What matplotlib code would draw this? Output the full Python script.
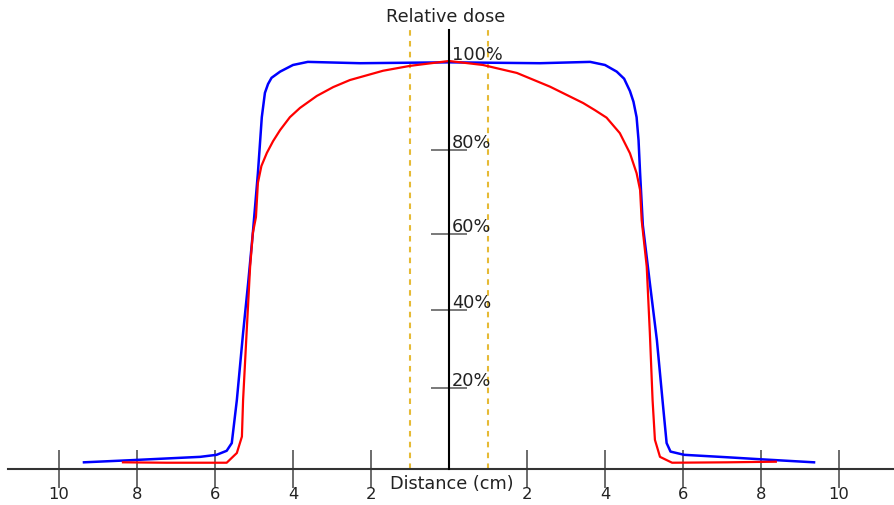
import numpy as np
import matplotlib.pyplot as plt
from matplotlib.transforms import offset_copy

plt.rcParams['font.family'] = ['DejaVu Sans']
plt.rcParams['lines.scale_dashes'] = False

# blue profile (flat field) and red profile, distance in cm, dose in %
blue_x = [-9.36, -8.10, -6.38, -5.96, -5.70, -5.57, -5.44, -5.28, -5.15, -5.03,
          -4.90, -4.80, -4.72, -4.64, -4.55, -4.33, -4.00, -3.62, -2.28, 0.00,
          2.33, 3.62, 4.00, 4.30, 4.49, 4.64, 4.73, 4.81, 4.86, 4.90,
          4.97, 5.15, 5.33, 5.49, 5.58, 5.68, 6.03, 7.13, 7.99, 9.36]
blue_dose = [1.65, 2.2, 3.0, 3.5, 4.5, 6.4, 17.0, 34.1, 47.1, 60.2,
             74.4, 87.3, 92.8, 94.8, 96.2, 97.6, 99.1, 99.8, 99.5, 99.7,
             99.5, 99.8, 99.1, 97.6, 96.0, 93.2, 90.8, 87.3, 82.1, 74.4,
             62.1, 47.1, 32.3, 15.4, 6.4, 4.3, 3.5, 2.9, 2.4, 1.65]

red_x = [-8.36, -7.24, -5.70, -5.44, -5.31, -5.28, -5.19, -5.10, -5.03,
         -4.95, -4.90, -4.81, -4.67, -4.51, -4.33, -4.08, -3.82, -3.39, -2.97,
         -2.54, -1.69, -1.00, 0.00, 0.87, 1.74, 2.59, 3.44, 3.74, 4.04,
         4.38, 4.64, 4.81, 4.90, 4.94, 5.07, 5.15, 5.22, 5.28, 5.41,
         5.72, 7.13, 8.38]
red_dose = [1.65, 1.55, 1.55, 3.95, 8.0, 17.0, 34.1, 51.3, 60.2,
            64.0, 72.1, 76.1, 79.2, 81.9, 84.4, 87.3, 89.4, 92.1, 94.1,
            95.7, 97.8, 98.9, 100.0, 99.1, 97.3, 94.2, 90.5, 88.9, 87.2,
            83.7, 79.1, 74.4, 70.4, 63.3, 51.4, 34.1, 17.0, 7.2, 3.0,
            1.55, 1.65, 1.8]

x_ticks = [-10, -8, -6, -4, -2, 2, 4, 6, 8, 10]
x_tick_labels = ['10', '8', '6', '4', '2', '2', '4', '6', '8', '10']
y_ticks = [20, 40, 60, 80]
y_labels = [20, 40, 60, 80, 100]
marker_x = [-1.0, 1.0]

# the drawing has unevenly spaced dose marks, so the y scale follows them
scale_pct = [-100, 0, 20, 40, 60, 80, 100, 200]
scale_h = [-405, 0, 81, 159, 235, 319.5, 408, 850.5]


def fwd(p):
    return np.interp(p, scale_pct, scale_h)


def inv(h):
    return np.interp(h, scale_h, scale_pct)


fig = plt.figure(figsize=(8.94, 5.05), dpi=100)
ax = fig.add_axes([8 / 894, 0, 886 / 894, 1])
ax.set_yscale('function', functions=(fwd, inv))
ax.set_xlim((8 - 449) / 39, (894 - 449) / 39)
ax.set_ylim(inv(-36), inv(469))

top = inv(439)
for mx in marker_x:
    ax.plot([mx, mx], [0, top], color='#e6ba35', lw=1.5, dashes=(4.0, 3.8), zorder=1)

ax.plot(blue_x, blue_dose, color='#0000ff', lw=1.8, zorder=3,
        solid_joinstyle='round')
ax.plot(red_x, red_dose, color='#ff0000', lw=1.6, zorder=4,
        solid_joinstyle='round')

for side in ['top', 'right']:
    ax.spines[side].set_visible(False)
ax.spines['bottom'].set_position(('data', 0))
ax.spines['bottom'].set_color('#333333')
ax.spines['bottom'].set_linewidth(1.5)
ax.spines['left'].set_position(('data', 0))
ax.spines['left'].set_color('black')
ax.spines['left'].set_linewidth(1.5)
ax.spines['left'].set_bounds(0, top)
ax.spines['left'].set_zorder(5)

ax.set_xticks(x_ticks)
ax.set_xticklabels(x_tick_labels)
ax.tick_params(axis='x', direction='inout', length=28, width=1.1, color='#444444',
               pad=-1, labelsize=11.8, labelcolor='#222222')
ax.set_yticks(y_ticks)
ax.set_yticklabels([])
ax.yaxis.set_minor_locator(plt.NullLocator())
ax.tick_params(axis='y', direction='inout', length=26.6, width=1.1, color='#555555')

lab_tr = offset_copy(ax.transData, fig=fig, x=3, y=1.5, units='dots')
for p in y_labels:
    ax.text(0, p, f'{p}%', transform=lab_tr, ha='left', va='baseline',
            fontsize=12.8, color='#222222', zorder=6)

fig.text(446 / 894, 1 - 17 / 505, 'Relative dose', ha='center', va='center',
         fontsize=12.7, color='#222222')
fig.text(452 / 894, 1 - 484 / 505, 'Distance (cm)', ha='center', va='center',
         fontsize=12.7, color='#222222')

fig.savefig('out.png', dpi=100)
